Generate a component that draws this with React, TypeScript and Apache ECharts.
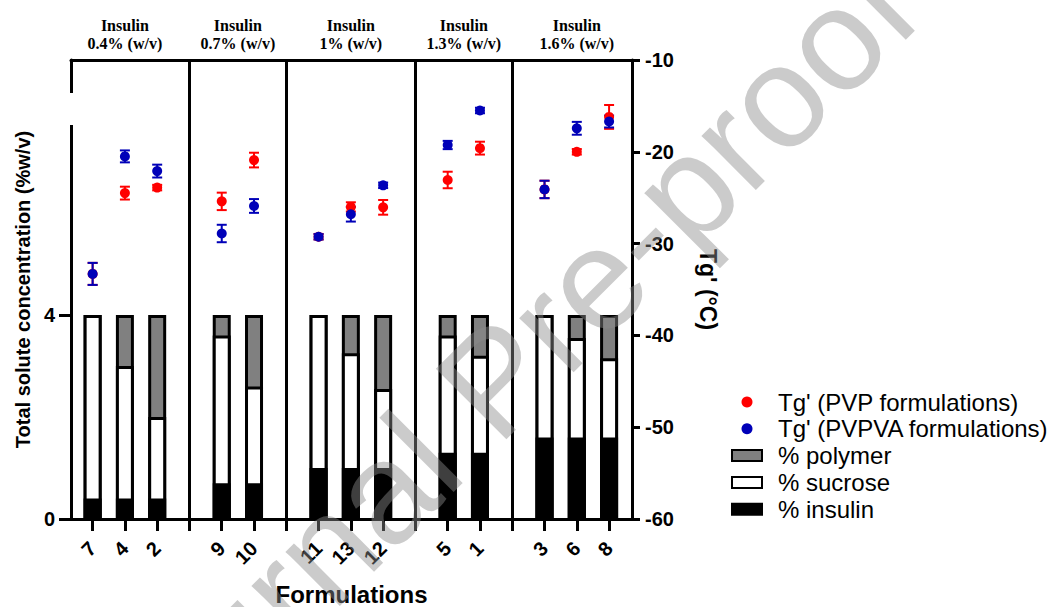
import React, { useEffect, useRef } from 'react';
import * as echarts from 'echarts';

// ---------- data ----------
const groupTitles = [
  'Insulin\n0.4% (w/v)',
  'Insulin\n0.7% (w/v)',
  'Insulin\n1% (w/v)',
  'Insulin\n1.3% (w/v)',
  'Insulin\n1.6% (w/v)',
];
const groupFormulations = [
  ['7', '4', '2'],
  ['9', '10'],
  ['11', '13', '12'],
  ['5', '1'],
  ['3', '6', '8'],
];
// values below follow the order of groupFormulations flattened
const insulinPct = [0.4, 0.4, 0.4, 0.7, 0.7, 1.0, 1.0, 1.0, 1.3, 1.3, 1.6, 1.6, 1.6];
const sucrosePct = [3.6, 2.6, 1.6, 2.9, 1.9, 3.0, 2.25, 1.55, 2.3, 1.9, 2.4, 1.95, 1.55];
const polymerPct = [0, 1.0, 2.0, 0.4, 1.4, 0, 0.75, 1.45, 0.4, 0.8, 0, 0.45, 0.85];
const tgPVP = [-33.3, -24.5, -23.9, -25.4, -20.9, -29.25, -26.0, -26.05, -23.07, -19.6, -24.1, -20.0, -16.2];
const tgPVPErr = [1.2, 0.7, 0.3, 0.95, 0.8, 0.3, 0.5, 0.8, 0.9, 0.7, 0.95, 0.3, 1.3];
const tgPVPVA = [-33.3, -20.5, -22.1, -28.9, -25.9, -29.25, -26.8, -23.65, -19.26, -15.5, -24.1, -17.44, -16.7];
const tgPVPVAErr = [1.2, 0.65, 0.7, 0.95, 0.75, 0.3, 0.8, 0.3, 0.45, 0.3, 0.95, 0.7, 0.65];
const leftTickValues = [0, 4];
const leftMax = 9;
const rightMin = -60;
const rightMax = -10;
const rightInterval = 10;

const PVP_NAME = "Tg' (PVP formulations)";
const PVPVA_NAME = "Tg' (PVPVA formulations)";
const SANS = '"Liberation Sans", Arial, Helvetica, sans-serif';
const SERIF = '"Liberation Serif", "Times New Roman", serif';
const RED = '#ff0000';
const BLUE = '#0000b8';

// ---------- layout derived from data ----------
const formulations: string[] = [];
const xPos: number[] = [];
const separators: number[] = [];
const groupCenters: number[] = [];
(() => {
  let p = 0;
  groupFormulations.forEach((g, gi) => {
    const start = p;
    g.forEach((f) => {
      formulations.push(f);
      xPos.push(p);
      p += 1;
    });
    groupCenters.push((start + p - 1) / 2);
    if (gi < groupFormulations.length - 1) {
      separators.push(p);
      p += 1;
    }
  });
})();
const lastPos = xPos[xPos.length - 1];
const allTicks = Array.from({ length: lastPos + 1 }, (_, i) => i);

// cumulative tops of the stacked segments (insulin at bottom, then sucrose, then polymer)
const cumInsulin = insulinPct.map((v) => v);
const cumSucrose = insulinPct.map((v, i) => v + sucrosePct[i]);
const cumPolymer = insulinPct.map((v, i) => v + sucrosePct[i] + polymerPct[i]);

function errorSeries(name: string, vals: number[], errs: number[], color: string) {
  return {
    type: 'custom',
    name,
    xAxisIndex: 0,
    yAxisIndex: 1,
    silent: true,
    encode: { x: 0, y: 1 },
    data: vals.map((v, i) => [xPos[i], v, errs[i]]),
    renderItem: (params: any, api: any) => {
      const x = api.value(0);
      const v = api.value(1);
      const e = api.value(2);
      const hi = api.coord([x, v + e]);
      const lo = api.coord([x, v - e]);
      const cx = hi[0];
      const half = 5;
      const style = { stroke: color, lineWidth: 2 };
      return {
        type: 'group',
        children: [
          { type: 'line', shape: { x1: cx, y1: hi[1], x2: cx, y2: lo[1] }, style },
          { type: 'line', shape: { x1: cx - half, y1: hi[1], x2: cx + half, y2: hi[1] }, style },
          { type: 'line', shape: { x1: cx - half, y1: lo[1], x2: cx + half, y2: lo[1] }, style },
        ],
      };
    },
  };
}

function barSeries(name: string, tops: number[], color: string, withSeparators: boolean) {
  const s: any = {
    type: 'bar',
    name,
    xAxisIndex: 0,
    yAxisIndex: 0,
    barWidth: 18,
    barGap: '-100%',
    itemStyle: { color, borderColor: '#000', borderWidth: 3 },
    data: tops.map((v, i) => [xPos[i], v]),
  };
  if (withSeparators) {
    s.markLine = {
      silent: true,
      symbol: 'none',
      label: { show: false },
      lineStyle: { color: '#000', width: 3, type: 'solid' },
      data: separators.map((x) => ({ xAxis: x })),
    };
  }
  return s;
}

export default function App() {
  const ref = useRef<HTMLDivElement>(null);
  useEffect(() => {
    document.body.style.margin = '0';
    if (!ref.current) return;
    const chart = echarts.init(ref.current, null, { renderer: 'svg' });
    const xMin = -0.67;
    const xMax = lastPos + 0.71;
    const labelOf = (v: number) => {
      const i = xPos.indexOf(Math.round(v));
      return i >= 0 ? formulations[i] : '';
    };
    const titleOf = (v: number) => {
      const i = groupCenters.findIndex((c) => Math.abs(c - v) < 0.01);
      return i >= 0 ? groupTitles[i] : '';
    };
    const option: any = {
      animation: false,
      backgroundColor: '#fff',
      grid: { left: 71, right: 427, top: 60, bottom: 88, containLabel: false, outerBoundsMode: 'none' },
      legend: {
        orient: 'vertical',
        left: 726,
        top: 385,
        itemWidth: 30,
        itemHeight: 11,
        itemGap: 2.8,
        selectedMode: false,
        textStyle: { fontFamily: SANS, fontSize: 24, color: '#000', padding: [0, 0, 0, 11] },
        data: [
          { name: PVP_NAME, icon: 'circle' },
          { name: PVPVA_NAME, icon: 'circle' },
          { name: '% polymer', icon: 'rect' },
          { name: '% sucrose', icon: 'rect' },
          { name: '% insulin', icon: 'rect' },
        ],
      },
      xAxis: [
        {
          type: 'value',
          position: 'bottom',
          min: xMin,
          max: xMax,
          splitLine: { show: false },
          axisLine: { show: true, onZero: false, lineStyle: { color: '#000', width: 3 } },
          axisTick: { show: true, customValues: allTicks, length: 12, lineStyle: { color: '#000', width: 3 } },
          axisLabel: {
            customValues: xPos,
            formatter: (v: number) => labelOf(v),
            rotate: 45,
            margin: 26,
            color: '#000',
            fontFamily: SANS,
            fontWeight: 'bold',
            fontSize: 20,
          },
          name: 'Formulations',
          nameLocation: 'middle',
          nameGap: 63,
          nameTextStyle: { fontFamily: SANS, fontWeight: 'bold', fontSize: 24, color: '#000' },
        },
        {
          type: 'value',
          position: 'top',
          min: xMin,
          max: xMax,
          splitLine: { show: false },
          axisLine: { show: true, onZero: false, lineStyle: { color: '#000', width: 3 } },
          axisTick: { show: false },
          axisLabel: {
            customValues: groupCenters,
            formatter: (v: number) => titleOf(v),
            margin: 8,
            color: '#000',
            fontFamily: SERIF,
            fontWeight: 'bold',
            fontSize: 16,
            lineHeight: 18,
          },
        },
      ],
      yAxis: [
        {
          type: 'value',
          position: 'left',
          min: 0,
          max: leftMax,
          splitLine: { show: false },
          axisLine: { show: true, onZero: false, lineStyle: { color: '#000', width: 3 } },
          axisTick: { show: true, customValues: leftTickValues, length: 12, lineStyle: { color: '#000', width: 3 } },
          axisLabel: {
            customValues: leftTickValues,
            margin: 16,
            color: '#000',
            fontFamily: SANS,
            fontWeight: 'bold',
            fontSize: 20,
          },
          name: 'Total solute concentration (%w/v)',
          nameLocation: 'middle',
          nameRotate: 90,
          nameGap: 37,
          nameTextStyle: { fontFamily: SANS, fontWeight: 'bold', fontSize: 20, color: '#000' },
        },
        {
          type: 'value',
          position: 'right',
          min: rightMin,
          max: rightMax,
          interval: rightInterval,
          splitLine: { show: false },
          axisLine: { show: true, onZero: false, lineStyle: { color: '#000', width: 3 } },
          axisTick: { show: true, length: 8, lineStyle: { color: '#000', width: 3 } },
          axisLabel: {
            margin: 13,
            color: '#000',
            fontFamily: SANS,
            fontWeight: 'bold',
            fontSize: 20,
          },
          name: "Tg' (°C)",
          nameLocation: 'middle',
          nameRotate: -90,
          nameGap: 64,
          nameTextStyle: { fontFamily: SANS, fontWeight: 'bold', fontSize: 23, color: '#000' },
        },
      ],
      series: [
        barSeries('% polymer', cumPolymer, '#808080', true),
        barSeries('% sucrose', cumSucrose, '#fff', false),
        barSeries('% insulin', cumInsulin, '#000', false),
        errorSeries('pvp-err', tgPVP, tgPVPErr, RED),
        {
          type: 'scatter',
          name: PVP_NAME,
          xAxisIndex: 0,
          yAxisIndex: 1,
          symbolSize: 10,
          itemStyle: { color: RED, opacity: 1 },
          data: tgPVP.map((v, i) => [xPos[i], v]),
        },
        errorSeries('pvpva-err', tgPVPVA, tgPVPVAErr, BLUE),
        {
          type: 'scatter',
          name: PVPVA_NAME,
          xAxisIndex: 0,
          yAxisIndex: 1,
          symbolSize: 10,
          itemStyle: { color: BLUE, opacity: 1 },
          data: tgPVPVA.map((v, i) => [xPos[i], v]),
        },
      ],
      graphic: [
        {
          // small break in the left axis line, as in the source figure
          type: 'rect',
          shape: { x: 68, y: 93, width: 6, height: 32 },
          style: { fill: '#fff' },
          silent: true,
          z: 50,
        },
        {
          type: 'text',
          x: 494,
          y: 381,
          rotation: Math.PI / 4,
          silent: true,
          z: 100,
          style: {
            text: 'Journal Pre-proof',
            fontFamily: SANS,
            fontSize: 145,
            fill: 'rgba(140,140,140,0.45)',
            align: 'center',
            verticalAlign: 'middle',
          },
        },
      ],
    };
    chart.setOption(option);
    return () => chart.dispose();
  }, []);
  return <div ref={ref} style={{ width: 1059, height: 607 }} />;
}
